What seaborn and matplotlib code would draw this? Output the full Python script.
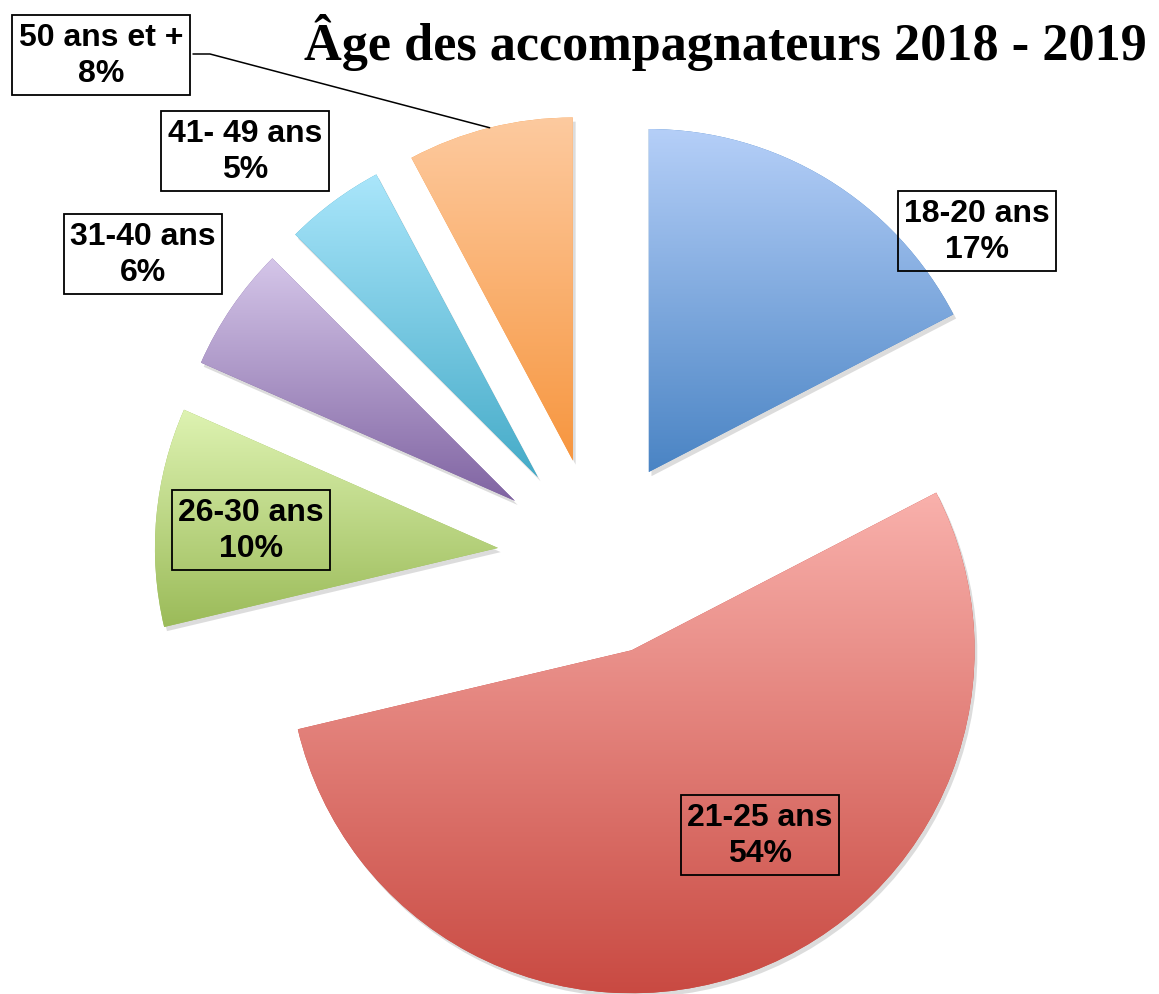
import numpy as np
import matplotlib
matplotlib.use("Agg")
import matplotlib.pyplot as plt
import matplotlib.patheffects as pe
from matplotlib.colors import to_rgb
import seaborn as sns

# ---- data (shares; labels show rounded %) ----
categories = ["18-20 ans", "21-25 ans", "26-30 ans", "31-40 ans", "41- 49 ans", "50 ans et +"]
values = [17.4, 53.9, 10.3, 5.9, 4.7, 7.8]
title = "Âge des accompagnateurs 2018 - 2019"

# ---- style ----
base_colors = ["#4a84c4", "#c94a42", "#9bbb59", "#8064a2", "#45abc8", "#f7963f"]
top_colors = ["#b5cff8", "#f9b1ac", "#def3b2", "#d5c6e9", "#aae6fb", "#fdca9f"]
label_pos_px = [(977, 232), (760, 836), (251, 531), (143, 255), (245, 152), (101, 56)]

sns.set_theme(style="white")
plt.rcParams["font.family"] = ["Liberation Sans", "DejaVu Sans"]

W, H = 1159, 995
R_PX = 343.0
CX, CY = 597.0, 558.0

def px2d(px, py):
    return ((px - CX) / R_PX, (CY - py) / R_PX)

fig = plt.figure(figsize=(W / 100, H / 100), dpi=100)
fig.patch.set_facecolor("white")
ax = fig.add_axes([0, 0, 1, 1])
ax.set_facecolor("white")

palette = sns.color_palette(base_colors)
wedges, _ = ax.pie(values, colors=palette, startangle=90, counterclock=False,
                   explode=[0.29] * len(values), radius=1.0,
                   wedgeprops=dict(linewidth=0))

ax.set_aspect("equal")
ax.axis("off")

# gradient fills + soft shadow
for w, ctop, cbot in zip(wedges, top_colors, base_colors):
    w.set_path_effects([pe.SimplePatchShadow(offset=(2, -3), shadow_rgbFace=(0.55, 0.55, 0.55), alpha=0.3),
                        pe.Normal()])
    ext = w.get_path().get_extents(w.get_patch_transform())
    t = np.linspace(0, 1, 256)[:, None]
    c1 = np.array(to_rgb(ctop)); c2 = np.array(to_rgb(cbot))
    grad = (c1[None, :] * (1 - t) + c2[None, :] * t)[:, None, :]
    im = ax.imshow(grad, extent=[ext.x0, ext.x1, ext.y0, ext.y1], origin="upper",
                   aspect="auto", interpolation="bilinear", zorder=w.get_zorder() + 0.1)
    im.set_clip_path(w)

ax.set_xlim(-CX / R_PX, (W - CX) / R_PX)
ax.set_ylim(-(H - CY) / R_PX, CY / R_PX)

# labels
for cat, val, (px, py) in zip(categories, values, label_pos_px):
    x, y = px2d(px, py)
    ax.text(x, y, f"{cat}\n{round(val):d}%", ha="center", va="center", fontsize=23,
            fontweight="bold", color="black", linespacing=1.3, zorder=10,
            bbox=dict(boxstyle="square,pad=0.2", facecolor="none", edgecolor="black", linewidth=1.3))

# leader line for the last slice
w = wedges[-1]
theta = np.deg2rad(0.5 * (w.theta1 + w.theta2))
ex = w.center[0] + w.r * np.cos(theta)
ey = w.center[1] + w.r * np.sin(theta)
x0, y0 = px2d(193, 55)
x1, y1 = px2d(210, 55)
ax.plot([x0, x1, ex], [y0, y1, ey], color="black", linewidth=1.1, zorder=9)

fig.text(725 / W, 1 - 60 / H, title, ha="center", va="baseline",
         fontsize=37.6, fontweight="bold", family=["Liberation Serif", "DejaVu Serif"], color="black")

fig.savefig("out.png", dpi=100, facecolor="white")
